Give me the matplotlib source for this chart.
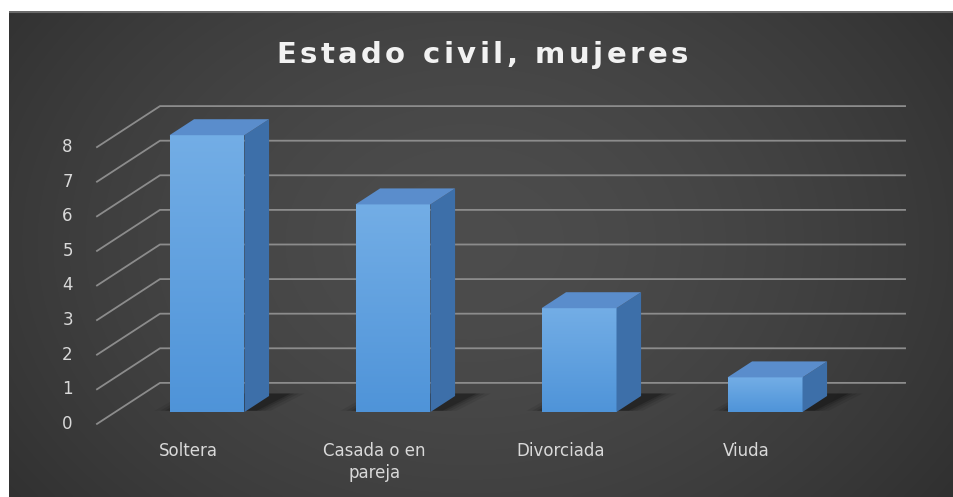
import numpy as np
import matplotlib
matplotlib.use("Agg")
import matplotlib.pyplot as plt
from matplotlib.patches import Polygon

# Datos
categorias = ["Soltera", "Casada o en\npareja", "Divorciada", "Viuda"]
valores = [8, 6, 3, 1]
ticks_y = [0, 1, 2, 3, 4, 5, 6, 7, 8]
titulo = "Estado civil, mujeres"

# Geometria de la vista 3D (unidades de datos)
PROF_X = 0.3387    # desplazamiento horizontal de toda la profundidad
PROF_Y = 1.185     # desplazamiento vertical de toda la profundidad
D_FRENTE = 0.29    # profundidad de la cara frontal de las barras
D_FONDO = 0.68     # profundidad de la cara trasera de las barras
MEDIO_ANCHO = 0.2016
X_IZQ = -0.4932    # borde izquierdo del suelo
X_DER = 3.753 - (1 - D_FRENTE) * PROF_X


def proyectar(x, v, d):
    # punto (categoria, valor, profundidad) -> coordenadas del eje
    return (x + (d - D_FRENTE) * PROF_X, v + (d - D_FRENTE) * PROF_Y)


def texto_espaciado(fig, xc, yc, s, espacio, **kw):
    # dibuja el texto letra a letra con espaciado extra (en pixeles)
    ren = fig.canvas.get_renderer()
    prop = matplotlib.font_manager.FontProperties(
        family=kw.get("family"), weight=kw.get("fontweight"),
        size=kw.get("fontsize"))

    def ancho(t):
        w1, _, _ = ren.get_text_width_height_descent(t + "|", prop, ismath=False)
        w2, _, _ = ren.get_text_width_height_descent("|", prop, ismath=False)
        return w1 - w2

    total = ancho(s) + espacio * (len(s) - 1)
    x0 = xc * fig.bbox.width - total / 2
    for k, ch in enumerate(s):
        px = x0 + ancho(s[:k]) + espacio * k
        fig.text(px / fig.bbox.width, yc, ch, ha="left", va="center", **kw)


W, H = 954, 497
fig = plt.figure(figsize=(W / 100, H / 100), dpi=100)
fig.patch.set_facecolor("white")

# Fondo con degradado radial
bg = fig.add_axes([9 / W, 0, 1 - 9 / W, 1 - 11 / H])
bg.set_axis_off()
yy, xx = np.mgrid[0:200, 0:400]
r = np.sqrt(((xx - 195) / 260.0) ** 2 + ((yy - 95) / 190.0) ** 2)
grad = np.clip(0.30 - 0.12 * r ** 1.6, 0.17, 0.30)
bg.imshow(np.dstack([grad, grad, grad]), aspect="auto", interpolation="bilinear")
bg.axhline(0, color="#6a6a6a", lw=1.5)

ax = fig.add_axes([0, 0, 1, 1])
ax.set_xlim(-1.1129, 4.0161)
ax.set_ylim(-2.457, 11.908)
ax.set_axis_off()
ax.patch.set_alpha(0)

# Lineas de cuadricula: diagonal en la pared lateral + horizontal en el fondo
for v in ticks_y:
    x0, y0 = proyectar(X_IZQ, v, 0)
    x1, y1 = proyectar(X_IZQ, v, 1)
    x2, y2 = proyectar(X_DER, v, 1)
    ax.plot([x0, x1, x2], [y0, y1, y2], color="#8c8c8c", lw=1.3,
            solid_joinstyle="round", zorder=2)
    ax.text(x0 - 0.13, y0, str(v), ha="right", va="center",
            color="#d9d9d9", fontsize=12, family="DejaVu Sans")

# Sombras y barras
for i, v in enumerate(valores):
    xl, xr = i - MEDIO_ANCHO, i + MEDIO_ANCHO

    # sombra difusa sobre el suelo
    for k, a in zip([0.09, 0.06, 0.035, 0.015], [0.08, 0.10, 0.14, 0.20]):
        pts = [proyectar(xl - k, 0, D_FRENTE + 0.03),
               proyectar(xr + 0.04 + k, 0, D_FRENTE + 0.03),
               proyectar(xr + 0.08 + k, 0, D_FONDO + 0.06),
               proyectar(xl + 0.02 - k, 0, D_FONDO + 0.06)]
        ax.add_patch(Polygon(pts, closed=True, facecolor="black",
                             edgecolor="none", alpha=a, zorder=3))

    # cara frontal con degradado vertical
    fx0, fy0 = proyectar(xl, 0, D_FRENTE)
    fx1, fy1 = proyectar(xr, v, D_FRENTE)
    frente = Polygon([(fx0, fy0), (fx1, fy0), (fx1, fy1), (fx0, fy1)],
                     closed=True, facecolor="none", edgecolor="none", zorder=5)
    ax.add_patch(frente)
    g = np.linspace(0, 1, 64)[:, None]
    top_c = np.array([0.45, 0.68, 0.90])
    bot_c = np.array([0.31, 0.58, 0.85])
    img = top_c * (1 - g[..., None]) + bot_c * g[..., None]
    img = np.repeat(img, 2, axis=1)
    im = ax.imshow(img, extent=[fx0, fx1, fy0, fy1], aspect="auto",
                   interpolation="bilinear", zorder=5, origin="upper")
    im.set_clip_path(frente)

    # cara lateral
    lado = [proyectar(xr, 0, D_FRENTE), proyectar(xr, 0, D_FONDO),
            proyectar(xr, v, D_FONDO), proyectar(xr, v, D_FRENTE)]
    ax.add_patch(Polygon(lado, closed=True, facecolor="#3d6fa9",
                         edgecolor="none", zorder=5))

    # cara superior
    tapa = [proyectar(xl, v, D_FRENTE), proyectar(xr, v, D_FRENTE),
            proyectar(xr, v, D_FONDO), proyectar(xl, v, D_FONDO)]
    ax.add_patch(Polygon(tapa, closed=True, facecolor="#5a8dcc",
                         edgecolor="none", zorder=6))

    # etiqueta de categoria
    lx, _ = proyectar(i, 0, 0)
    ax.text(lx, -0.87, categorias[i], ha="center", va="top",
            color="#d9d9d9", fontsize=12, family="DejaVu Sans",
            linespacing=1.25)

# Titulo con letras espaciadas
texto_espaciado(fig, 482 / W, 1 - 55 / H, titulo, 3.5,
                color="#f2f2f2", fontsize=21, fontweight="bold",
                family="DejaVu Sans")

fig.savefig("out.png", dpi=100, facecolor=fig.get_facecolor())
